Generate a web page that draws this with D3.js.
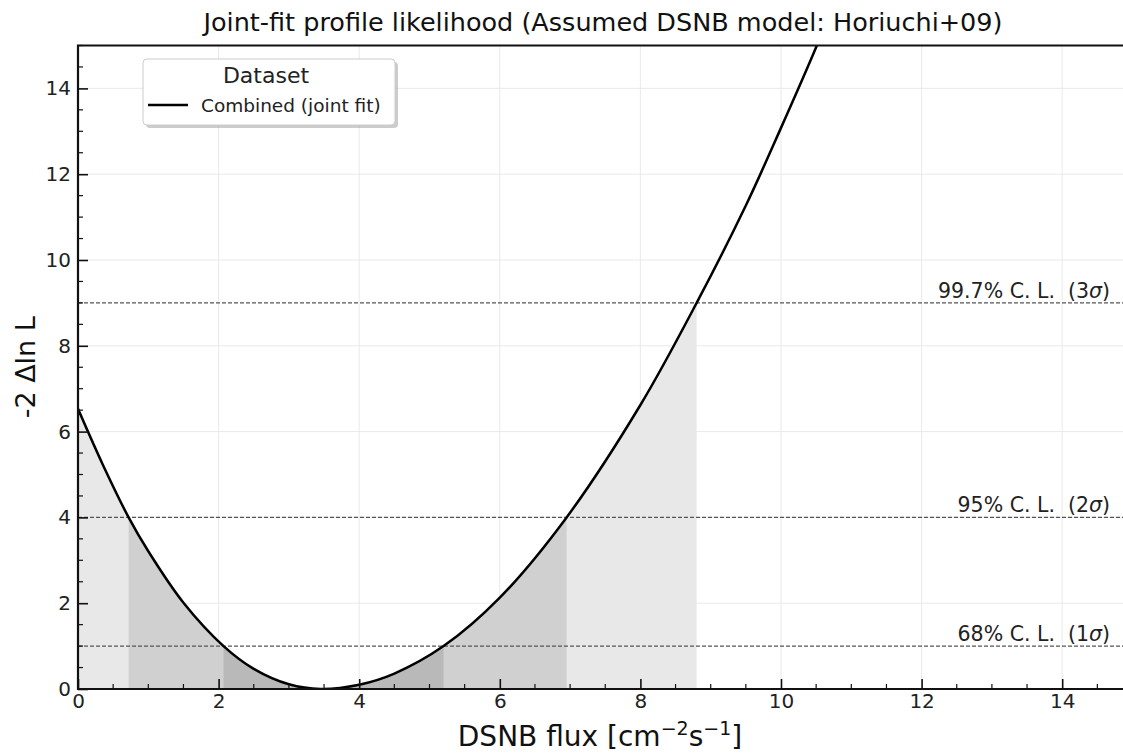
<!DOCTYPE html>
<html>
<head>
<meta charset="utf-8">
<script src="https://cdn.jsdelivr.net/npm/d3@7"></script>
<style>
  body { margin: 0; background: #fff; }
  svg { display: block; font-family: "DejaVu Sans", sans-serif; }
</style>
</head>
<body>
<div id="chart"></div>
<script>
// profile curve
const fluxValues = [0, 0.35, 0.72, 1.0, 1.5, 2.07, 2.5, 3.0, 3.45, 4.0, 4.5, 5.2, 6.0, 6.95, 8.0, 8.8, 9.5, 10.0, 10.51, 10.8];
const deltaValues = [6.53, 5.24, 4.0, 3.21, 2.01, 1.0, 0.47, 0.11, 0.0, 0.1, 0.36, 1.0, 2.13, 4.0, 6.62, 9.0, 11.27, 13.08, 15.0, 16.2];

// confidence levels: threshold, interval on the curve, label
const clLevels = [9, 4, 1];
const clLow = [0, 0.72, 2.07];
const clHigh = [8.8, 6.95, 5.2];
const clLabels = ["99.7% C. L.  (", "95% C. L.  (", "68% C. L.  ("];
const clSigma = ["3", "2", "1"];
const clFills = ["#e8e8e8", "#d0d0d0", "#b9b9b9"];

const xTicks = [0, 2, 4, 6, 8, 10, 12, 14];
const yTicks = [0, 2, 4, 6, 8, 10, 12, 14];

const width = 1123, height = 753;
const margin = { top: 45.5, left: 78, bottom: 689 };

const curve = fluxValues.map((f, i) => ({ x: f, y: deltaValues[i] }));

const svg = d3.select("#chart").append("svg")
  .attr("width", width)
  .attr("height", height);

const x = d3.scaleLinear().domain([0, 15]).range([margin.left, 1132.5]);
const y = d3.scaleLinear().domain([0, 15]).range([margin.bottom, margin.top]);

const defs = svg.append("defs");
defs.append("clipPath").attr("id", "plot-clip")
  .append("rect")
  .attr("x", x(0)).attr("y", y(15))
  .attr("width", x(15) - x(0)).attr("height", y(0) - y(15));

clLevels.forEach((lvl, i) => {
  defs.append("clipPath").attr("id", "cl-clip-" + i)
    .append("rect")
    .attr("x", x(clLow[i])).attr("y", y(15))
    .attr("width", x(clHigh[i]) - x(clLow[i])).attr("height", y(0) - y(15));
});

const plot = svg.append("g").attr("clip-path", "url(#plot-clip)");

// grid
plot.append("g")
  .selectAll("line")
  .data(xTicks.filter(d => d > 0))
  .join("line")
  .attr("x1", d => x(d)).attr("x2", d => x(d))
  .attr("y1", y(0)).attr("y2", y(15))
  .attr("stroke", "#e6e6e6").attr("stroke-width", 0.9);

plot.append("g")
  .selectAll("line")
  .data(yTicks.filter(d => d > 0))
  .join("line")
  .attr("x1", x(0)).attr("x2", x(15))
  .attr("y1", d => y(d)).attr("y2", d => y(d))
  .attr("stroke", "#e6e6e6").attr("stroke-width", 0.9);

// shaded intervals
const area = d3.area()
  .x(d => x(d.x))
  .y0(y(0))
  .y1(d => y(d.y))
  .curve(d3.curveCatmullRom.alpha(0.5));

clLevels.forEach((lvl, i) => {
  plot.append("g")
    .attr("clip-path", `url(#cl-clip-${i})`)
    .append("path")
    .datum(curve)
    .attr("d", area)
    .attr("fill", clFills[i]);
});

// dashed CL lines
plot.append("g")
  .selectAll("line")
  .data(clLevels)
  .join("line")
  .attr("x1", x(0)).attr("x2", x(15))
  .attr("y1", d => y(d)).attr("y2", d => y(d))
  .attr("stroke", "#555")
  .attr("stroke-width", 1.3)
  .attr("stroke-dasharray", "4,2");

// curve
const line = d3.line()
  .x(d => x(d.x))
  .y(d => y(d.y))
  .curve(d3.curveCatmullRom.alpha(0.5));

plot.append("path")
  .datum(curve)
  .attr("d", line)
  .attr("fill", "none")
  .attr("stroke", "#000")
  .attr("stroke-width", 2.5);

// CL labels
clLevels.forEach((lvl, i) => {
  const t = svg.append("text")
    .attr("x", 1110)
    .attr("y", y(lvl) - 5)
    .attr("text-anchor", "end")
    .attr("font-size", 20.5)
    .attr("fill", "#222")
    .style("white-space", "pre");
  t.append("tspan").text(clLabels[i] + clSigma[i]);
  t.append("tspan").attr("font-style", "italic").text("σ");
  t.append("tspan").text(")");
});

// axes with inward ticks
const xAxis = d3.axisBottom(x).tickValues(xTicks).tickSize(-10).tickPadding(18).tickFormat(d3.format("d"));
const yAxis = d3.axisLeft(y).tickValues(yTicks).tickSize(-10).tickPadding(17).tickFormat(d3.format("d"));

const gx = svg.append("g")
  .attr("transform", `translate(0,${y(0)})`)
  .call(xAxis);
const gy = svg.append("g")
  .attr("transform", `translate(${x(0)},0)`)
  .call(yAxis);

[gx, gy].forEach(g => {
  g.select(".domain").remove();
  g.selectAll(".tick line").attr("stroke", "#111").attr("stroke-width", 1.6);
  g.selectAll(".tick text").attr("font-size", 20).attr("fill", "#222")
    .attr("font-family", "DejaVu Sans, sans-serif");
});
gx.selectAll(".tick text").attr("dy", "0.05em");
gy.selectAll(".tick text").attr("dx", "0.5em");

// minor ticks
svg.append("g").selectAll("line")
  .data(x.ticks(30).filter(d => d % 2 !== 0))
  .join("line")
  .attr("x1", d => x(d)).attr("x2", d => x(d))
  .attr("y1", y(0)).attr("y2", y(0) - 5)
  .attr("stroke", "#111").attr("stroke-width", 1.2);
svg.append("g").selectAll("line")
  .data(y.ticks(30).filter(d => d % 2 !== 0))
  .join("line")
  .attr("x1", x(0)).attr("x2", x(0) + 5)
  .attr("y1", d => y(d)).attr("y2", d => y(d))
  .attr("stroke", "#111").attr("stroke-width", 1.2);

// spines: left, bottom, top
svg.append("path")
  .attr("d", `M${width + 5},${y(15)}H${x(0)}V${y(0)}H${width + 5}`)
  .attr("fill", "none")
  .attr("stroke", "#111")
  .attr("stroke-width", 2.2);

// title and axis labels
svg.append("text")
  .attr("x", 603).attr("y", 31)
  .attr("text-anchor", "middle")
  .attr("font-size", 25.5)
  .attr("fill", "#111")
  .text("Joint-fit profile likelihood (Assumed DSNB model: Horiuchi+09)");

svg.append("text")
  .attr("transform", `translate(35,${(y(0) + y(15)) / 2}) rotate(-90)`)
  .attr("text-anchor", "middle")
  .attr("font-size", 27)
  .attr("fill", "#111")
  .text("-2 Δln L");

const xl = svg.append("text")
  .attr("x", 600).attr("y", 746)
  .attr("text-anchor", "middle")
  .attr("font-size", 28)
  .attr("fill", "#111");
xl.append("tspan").text("DSNB flux [cm");
xl.append("tspan").attr("font-size", 19).attr("dy", -11).text("−2");
xl.append("tspan").attr("dy", 11).text("s");
xl.append("tspan").attr("font-size", 19).attr("dy", -11).text("−1");
xl.append("tspan").attr("dy", 11).text("]");

// legend
const lg = svg.append("g").attr("transform", "translate(143,59)");
lg.append("rect")
  .attr("x", 3).attr("y", 3).attr("width", 252).attr("height", 66)
  .attr("rx", 4).attr("fill", "#999").attr("opacity", 0.5);
lg.append("rect")
  .attr("x", 0).attr("y", 0).attr("width", 252).attr("height", 66)
  .attr("rx", 4).attr("fill", "#fff").attr("stroke", "#ccc").attr("stroke-width", 1);
lg.append("text")
  .attr("x", 123).attr("y", 24)
  .attr("text-anchor", "middle")
  .attr("font-size", 22)
  .attr("fill", "#222")
  .text("Dataset");
lg.append("line")
  .attr("x1", 5).attr("x2", 45).attr("y1", 46).attr("y2", 46)
  .attr("stroke", "#000").attr("stroke-width", 2.5);
lg.append("text")
  .attr("x", 58).attr("y", 53)
  .attr("font-size", 18.5)
  .attr("fill", "#222")
  .text("Combined (joint fit)");
</script>
</body>
</html>
